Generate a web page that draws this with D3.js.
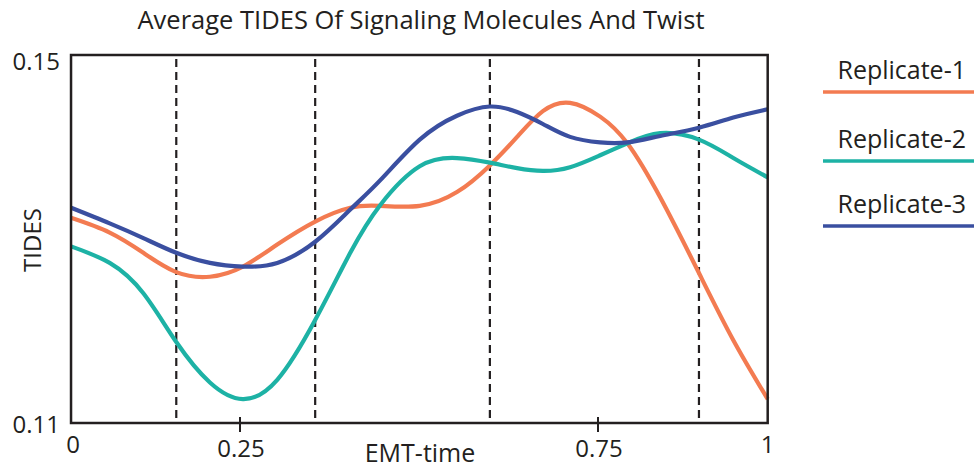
<!DOCTYPE html>
<html>
<head>
<meta charset="utf-8">
<script src="https://cdn.jsdelivr.net/npm/d3@7"></script>
<style>
  html, body { margin: 0; padding: 0; background: #fff; }
  svg { display: block; font-family: "Open Sans", "Noto Sans", sans-serif; }
</style>
</head>
<body>
<svg id="chart" width="974" height="470"></svg>
<script>
// ---- data ----
const seriesNames = ["Replicate-1", "Replicate-2", "Replicate-3"];
const seriesColors = ["#F37B51", "#1DB2A5", "#3A4FA0"];
const emtTime = [0.014, 0.068, 0.115, 0.161, 0.208, 0.254, 0.302, 0.355, 0.404, 0.446, 0.501,
                 0.553, 0.599, 0.637, 0.673, 0.711, 0.753, 0.791, 0.837, 0.891, 0.939, 0.987];
const replicate1 = [0.1323, 0.1307, 0.1285, 0.1264, 0.1259, 0.1270, 0.1294, 0.1319, 0.1334, 0.1336, 0.1336,
                    0.1351, 0.1380, 0.1411, 0.1439, 0.1448, 0.1433, 0.1404, 0.1345, 0.1263, 0.1190, 0.1126];
const replicate2 = [0.1292, 0.1274, 0.1241, 0.1188, 0.1144, 0.1126, 0.1147, 0.1212, 0.1285, 0.1337, 0.1379,
                    0.1388, 0.1383, 0.1377, 0.1374, 0.1378, 0.1391, 0.1404, 0.1415, 0.1408, 0.1388, 0.1367];
const replicate3 = [0.1334, 0.1317, 0.1301, 0.1285, 0.1274, 0.1270, 0.1274, 0.1297, 0.1332, 0.1364, 0.1408,
                    0.1434, 0.1444, 0.1438, 0.1425, 0.1411, 0.1405, 0.1405, 0.1412, 0.1421, 0.1432, 0.1441];
const stageBoundaries = [0.161, 0.355, 0.599, 0.891];
const xTickValues = [0.25, 0.75];
const xEdgeLabels = ["0", "1"];
const yTickValues = [0.11, 0.15];
const titleText = "Average TIDES Of Signaling Molecules And Twist";
const xLabel = "EMT-time";
const yLabel = "TIDES";

// ---- layout ----
const svg = d3.select("#chart");
const x = d3.scaleLinear().domain([0, 1]).range([61, 777]);
const y = d3.scaleLinear().domain([0.11, 0.15]).range([423, 55]);
const x0 = x(emtTime[0]), x1 = x(emtTime[emtTime.length - 1]);
const ink = "#231F20";

// title
svg.append("text").attr("x", 421).attr("y", 29).attr("text-anchor", "middle")
  .attr("font-size", 25.5).attr("fill", ink).text(titleText);

// dashed stage boundaries
svg.append("g").selectAll("line").data(stageBoundaries).join("line")
  .attr("x1", d => x(d)).attr("x2", d => x(d))
  .attr("y1", 59).attr("y2", y(0.11))
  .attr("stroke", ink).attr("stroke-width", 2.2).attr("stroke-dasharray", "8,5");

// series lines
const series = [replicate1, replicate2, replicate3];
const line = d3.line().x((d, i) => x(emtTime[i])).y(d => y(d)).curve(d3.curveNatural);
svg.append("g").selectAll("path").data(series).join("path")
  .attr("d", d => line(d)).attr("fill", "none")
  .attr("stroke", (d, i) => seriesColors[i]).attr("stroke-width", 4.2)
  .attr("stroke-linecap", "butt");

// frame
svg.append("rect").attr("x", x0).attr("y", y(0.15)).attr("width", x1 - x0).attr("height", y(0.11) - y(0.15))
  .attr("fill", "none").attr("stroke", ink).attr("stroke-width", 2.5);

// x ticks (crossing axis)
svg.append("g").selectAll("line").data(xTickValues).join("line")
  .attr("x1", d => x(d)).attr("x2", d => x(d)).attr("y1", y(0.11) - 6).attr("y2", y(0.11) + 9)
  .attr("stroke", ink).attr("stroke-width", 2);
svg.append("g").selectAll("text").data(xTickValues).join("text")
  .attr("x", d => x(d) + 1).attr("y", 457).attr("text-anchor", "middle")
  .attr("font-size", 24).attr("fill", ink).text(d => d3.format("")(d));
svg.append("g").selectAll("text").data(xEdgeLabels).join("text")
  .attr("x", (d, i) => i === 0 ? x0 + 2 : x1).attr("y", 453).attr("text-anchor", "middle")
  .attr("font-size", 24).attr("fill", ink).text(d => d);

// y tick labels
svg.append("g").selectAll("text").data(yTickValues).join("text")
  .attr("x", 60).attr("y", d => d === 0.15 ? y(d) + 15 : y(d) + 10).attr("text-anchor", "end")
  .attr("font-size", 24).attr("fill", ink).text(d => d3.format(".2f")(d));

// axis labels
svg.append("text").attr("x", 420).attr("y", 462).attr("text-anchor", "middle")
  .attr("font-size", 25).attr("fill", ink).text(xLabel);
svg.append("text").attr("transform", "translate(41,240) rotate(-90)").attr("text-anchor", "middle")
  .attr("font-size", 24).attr("fill", ink).text(yLabel);

// legend
const legendY = [92, 161, 226];
const lg = svg.append("g").selectAll("g").data(seriesNames).join("g");
lg.append("line").attr("x1", 823).attr("x2", 974).attr("y1", (d, i) => legendY[i]).attr("y2", (d, i) => legendY[i])
  .attr("stroke", (d, i) => seriesColors[i]).attr("stroke-width", 3.5);
lg.append("text").attr("x", 966).attr("y", (d, i) => legendY[i] - 13).attr("text-anchor", "end")
  .attr("font-size", 25).attr("fill", ink).text(d => d);
</script>
</body>
</html>
